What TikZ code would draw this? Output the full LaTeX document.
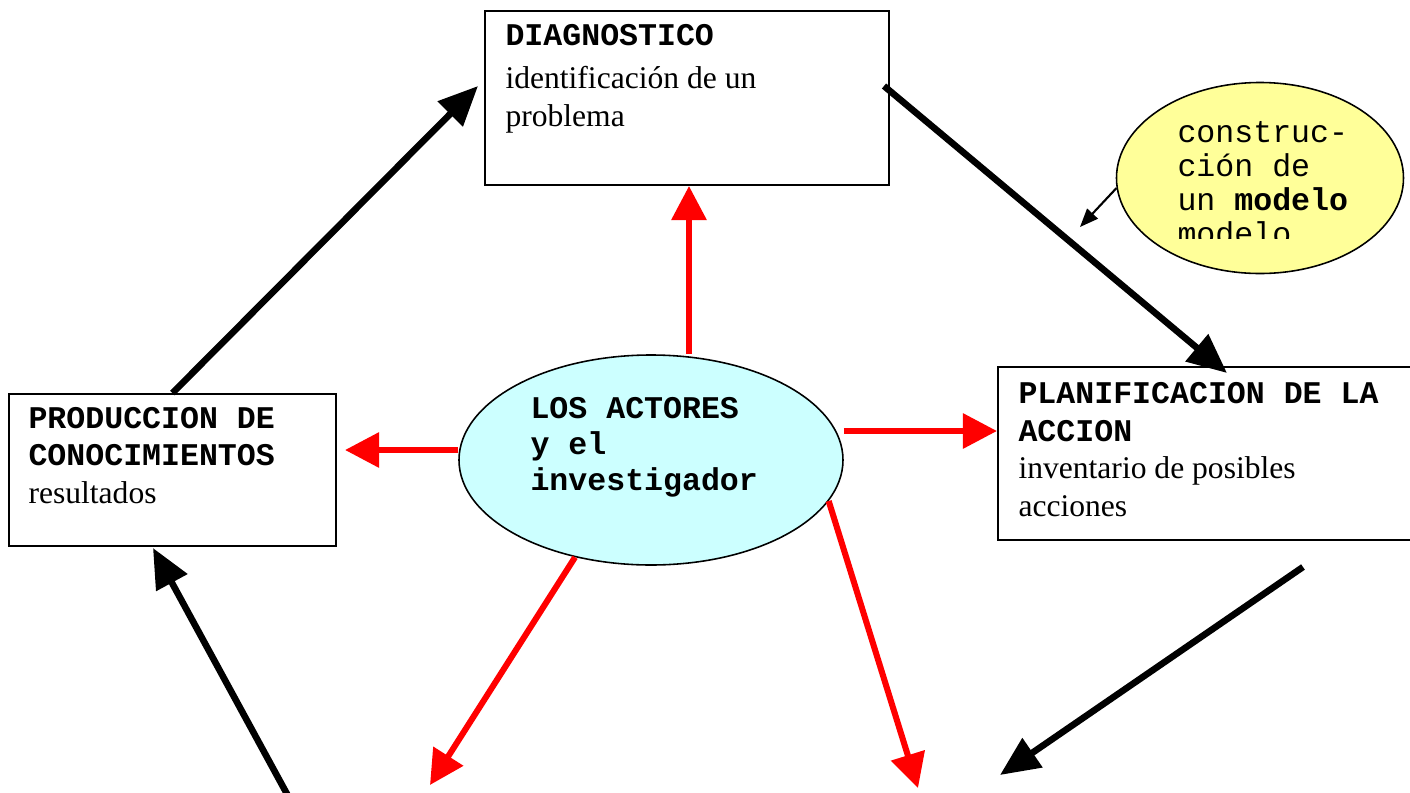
\documentclass[tikz,border=0pt]{standalone}
\usepackage{fontspec}
\setmainfont{Liberation Serif}
\setmonofont{Liberation Mono}
\usetikzlibrary{positioning,arrows.meta,shapes.geometric}
\definecolor{actfill}{RGB}{204,255,255}
\definecolor{modfill}{RGB}{255,255,153}
\newcommand{\pxl}{0.38pt}
\tikzset{
  box/.style={draw,line width=0.75pt,anchor=north west,inner sep=0pt},
  txt/.style={anchor=base west,align=left,inner sep=0pt,font=\fontsize{12}{14.25}\selectfont},
  blackarr/.style={line width=2.5pt,-{Triangle[length=15pt,width=13pt]}},
  redarr/.style={red,line width=2.3pt,-{Triangle[length=13pt,width=13pt]}},
  thinarr/.style={line width=0.8pt,-{Triangle[length=7pt,width=5.5pt]}}
}

\begin{document}
\begin{tikzpicture}[x=\pxl,y=-\pxl]
\useasboundingbox (0,0) rectangle (1410,793);
\clip (0,0) rectangle (1410,793);

% boxes (text nodes sit on the baseline of their last line)
\node[box,minimum width=404*\pxl,minimum height=174*\pxl] (diag) at (484,10) {};
\node[txt] (diagtxt) at (505,126) {{\ttfamily\bfseries DIAGNOSTICO}\\[2pt]identificación de un\\problema};

\node[box,minimum width=327*\pxl,minimum height=152*\pxl] (prod) at (8,393) {};
\node[txt] (prodtxt) at (28,503) {{\ttfamily\bfseries PRODUCCION DE}\\{\ttfamily\bfseries CONOCIMIENTOS}\\resultados};

\node[box,minimum width=425*\pxl,minimum height=173*\pxl] (plan) at (997,366) {};
\node[txt] (plantxt) at (1018,516) {{\ttfamily\bfseries PLANIFICACION DE LA}\\{\ttfamily\bfseries ACCION}\\inventario de posibles\\acciones};

% ellipses
\node[ellipse,draw,line width=0.6pt,fill=actfill,inner sep=0pt,minimum width=384*\pxl,minimum height=210*\pxl] (act) at (651,460) {};
\node[txt,font=\ttfamily\bfseries\fontsize{12}{13.5}\selectfont] (acttxt) at (530,490) {LOS ACTORES\\y el\\investigador};

\node[ellipse,draw,line width=0.6pt,fill=modfill,inner sep=0pt,minimum width=287*\pxl,minimum height=191*\pxl] (yel) at (1260,178) {};
\begin{scope}
  \clip (1100,60) rectangle (1410,238);
  \node[txt,font=\ttfamily\fontsize{12}{12.8}\selectfont] (yeltxt) at (1177,244) {construc-\\ción de\\un \textbf{modelo}\\modelo};
\end{scope}

% free ends
\coordinate (b1e) at (478,86);
\coordinate (b2s) at (884,86);
\coordinate (b2e) at (1227,373);
\coordinate (b3s) at (1303,567);
\coordinate (b3e) at (1000,775);
\coordinate (b4s) at (293,805);
\coordinate (b4e) at (153,548);
\coordinate (r1) at (689,184);
\coordinate (r2) at (345,450);
\coordinate (r3) at (997,431);
\coordinate (r4) at (430,785);
\coordinate (r5) at (918,788);
\coordinate (t1) at (1080,227);

% black cycle
\draw[blackarr] (prod.north) -- (b1e);
\draw[blackarr] (b2s) -- (b2e);
\draw[blackarr] (b3s) -- (b3e);
\draw[blackarr] (b4s) -- (b4e);

% red arrows
\draw[redarr] (act.north -| r1) -- (diag.south -| r1);
\draw[redarr] (act.west |- r2) -- (r2);
\draw[redarr] (act.east |- r3) -- (plan.west |- r3);
\draw[redarr] (act.232) -- (r4);
\draw[redarr] (act.-13) -- (r5);

\draw[thinarr] (yel.184) -- (t1);
\end{tikzpicture}
\end{document}
